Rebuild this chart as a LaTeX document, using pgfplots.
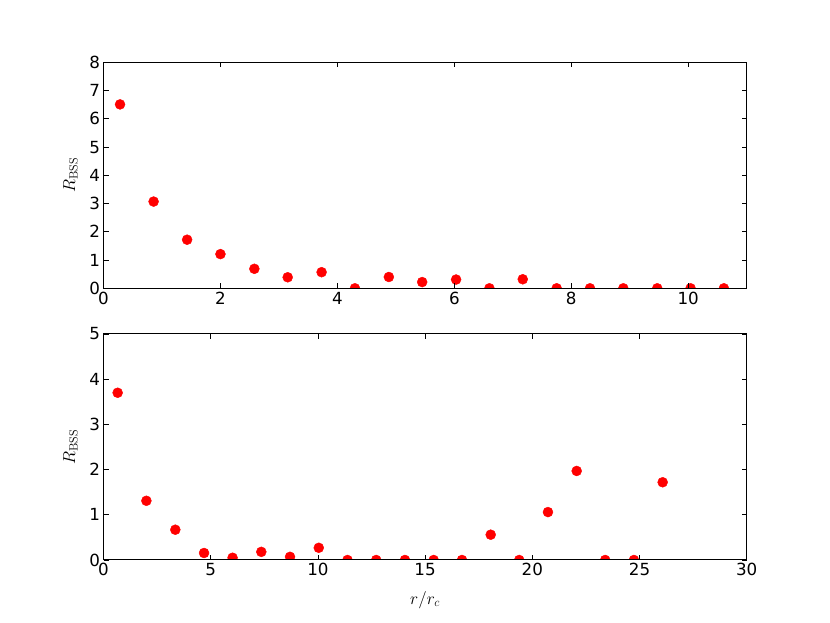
\documentclass[border=0pt]{standalone}
\usepackage{pgfplots}
\pgfplotsset{compat=1.18}
\usepackage[no-math]{fontspec}
\setmainfont{DejaVu Sans}
\pgfplotsset{
  mystyle/.style={
    scale only axis, width=643.2pt, height=226pt,
    axis line style={line width=1pt},
    tick style={black, line width=0.7pt},
    major tick length=5pt,
    tick align=inside,
    xtick pos=both, ytick pos=both,
    axis on top,
    clip marker paths=true,
    /pgf/number format/assume math mode=true,
    tick label style={font=\fontsize{16.7pt}{20pt}\selectfont},
    label style={font=\fontsize{16.7pt}{20pt}\selectfont},
    ylabel style={at={(rel axis cs:0,0.5)}, yshift=33pt, anchor=center},
  },
}
\begin{document}
\begin{tikzpicture}
\path (0pt,0pt) rectangle (830pt,623pt);
\pgfplotstableread{
x y
0.283 6.51
0.857 3.07
1.43 1.72
2.00 1.21
2.58 0.69
3.15 0.39
3.73 0.57
4.30 0.00
4.88 0.40
5.45 0.22
6.03 0.31
6.60 0.00
7.17 0.32
7.75 0.00
8.32 0.00
8.89 0.00
9.47 0.00
10.04 0.00
10.61 0.00
}\topdata
\pgfplotstableread{
x y
0.66 3.70
2.00 1.31
3.35 0.67
4.69 0.155
6.02 0.05
7.36 0.18
8.70 0.07
10.04 0.27
11.38 0.00
12.72 0.00
14.06 0.00
15.40 0.00
16.72 0.00
18.06 0.56
19.39 0.00
20.73 1.06
22.07 1.97
23.40 0.00
24.74 0.00
26.08 1.72
}\botdata
\begin{axis}[mystyle, at={(103.5pt,334.7pt)}, anchor=south west,
  xmin=0, xmax=11, ymin=0, ymax=8,
  xtick={0,2,4,6,8,10}, ytick={0,1,2,3,4,5,6,7,8},
  ylabel={$R_{\mathrm{BSS}}$}]
\addplot[only marks, mark=*, mark size=5pt, color=red, mark options={fill=red, draw=red}] table[x=x,y=y] {\topdata};
\end{axis}
\begin{axis}[mystyle, at={(103.5pt,63pt)}, anchor=south west,
  xmin=0, xmax=30, ymin=0, ymax=5,
  xtick={0,5,10,15,20,25,30}, ytick={0,1,2,3,4,5},
  ylabel={$R_{\mathrm{BSS}}$},
  xlabel={$r/r_c$},
  xlabel style={at={(rel axis cs:0.5,0)}, yshift=-40pt, anchor=center}]
\addplot[only marks, mark=*, mark size=5pt, color=red, mark options={fill=red, draw=red}] table[x=x,y=y] {\botdata};
\end{axis}
\end{tikzpicture}
\end{document}
